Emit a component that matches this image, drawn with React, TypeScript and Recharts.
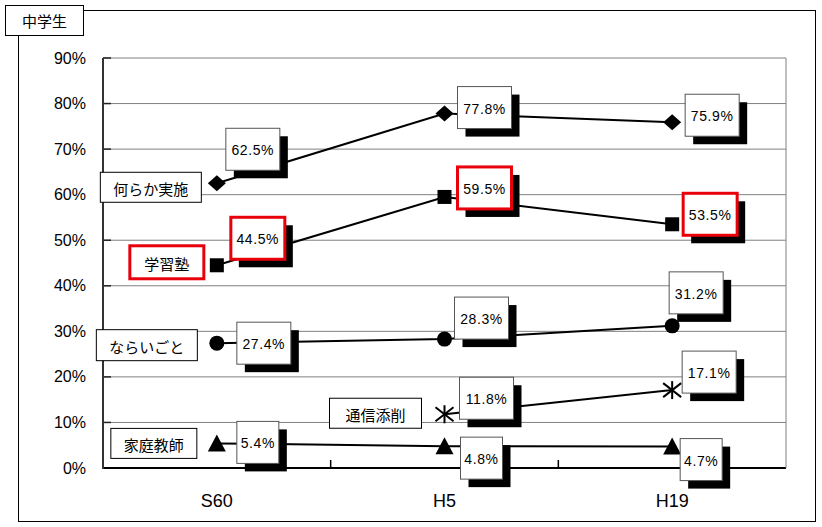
import React from 'react';
import { LineChart, Line, XAxis, YAxis, CartesianGrid } from 'recharts';

// ---- data ----
const categories = ['S60', 'H5', 'H19'];
const seriesNames = ['何らか実施', '学習塾', 'ならいごと', '通信添削', '家庭教師'];
const nanrakaValues = [62.5, 77.8, 75.9];
const jukuValues = [44.5, 59.5, 53.5];
const naraigotoValues = [27.4, 28.3, 31.2];
const tsushinValues: (number | null)[] = [null, 11.8, 17.1];
const kateiValues = [5.4, 4.8, 4.7];
const yTicks = [0, 10, 20, 30, 40, 50, 60, 70, 80, 90];
const chartTitle = '中学生';

const seriesValues = [nanrakaValues, jukuValues, naraigotoValues, tsushinValues, kateiValues];
const seriesKeys = ['s0', 's1', 's2', 's3', 's4'];

const data = categories.map((cat, i) => {
  const row: Record<string, any> = { cat };
  seriesKeys.forEach((k, s) => {
    row[k] = seriesValues[s][i];
  });
  return row;
});

// ---- layout / style ----
const W = 822;
const H = 527;
const MARGIN = { top: 58, right: 36, bottom: 0, left: 0 };
const Y_AXIS_W = 103;
const X_AXIS_H = 59;
const PLOT_W = W - MARGIN.left - MARGIN.right - Y_AXIS_W;
const PLOT_BOTTOM = H - MARGIN.bottom - X_AXIS_H;
const PAD = PLOT_W / 6;
const STEP = PLOT_W / 3;

const NUM_FONT = '"Liberation Sans", Arial, sans-serif';
const JP_FONT = '"Noto Sans CJK JP", "Noto Sans", sans-serif';
const RED = '#e8000b';

type Style = {
  marker: 'diamond' | 'square' | 'circle' | 'asterisk' | 'triangle';
  red: boolean;
  labelOffsets: ([number, number] | null)[];
  name: { dx: number; dy: number; w: number; h: number };
};

const SERIES_STYLE: Style[] = [
  { marker: 'diamond', red: false, labelOffsets: [[36, -34], [40, -6], [40, -7]], name: { dx: -66, dy: 4, w: 101, h: 30 } },
  { marker: 'square', red: true, labelOffsets: [[41, -27], [40, -9], [38, -10]], name: { dx: -50, dy: -3, w: 74, h: 33 } },
  { marker: 'circle', red: false, labelOffsets: [[47, 0], [37, -21], [24, -33]], name: { dx: -70, dy: 2, w: 101, h: 31 } },
  { marker: 'asterisk', red: false, labelOffsets: [null, [42, -16], [37, -18]], name: { dx: -69, dy: -1, w: 92, h: 30 } },
  { marker: 'triangle', red: false, labelOffsets: [[41, -1], [37, 12], [29, 13]], name: { dx: -63, dy: 0, w: 86, h: 30 } },
];

const Marker = ({ type, cx, cy }: { type: Style['marker']; cx: number; cy: number }) => {
  switch (type) {
    case 'diamond':
      return <polygon points={`${cx - 9},${cy} ${cx},${cy - 8} ${cx + 9},${cy} ${cx},${cy + 8}`} fill="#000" />;
    case 'square':
      return <rect x={cx - 7} y={cy - 7} width={14} height={14} fill="#000" />;
    case 'circle':
      return <circle cx={cx} cy={cy} r={7.5} fill="#000" />;
    case 'triangle':
      return <polygon points={`${cx - 9},${cy + 8} ${cx},${cy - 9} ${cx + 9},${cy + 8}`} fill="#000" />;
    case 'asterisk':
      return (
        <g stroke="#000" strokeWidth={2}>
          <line x1={cx} y1={cy - 9} x2={cx} y2={cy + 9} />
          <line x1={cx - 9} y1={cy - 7} x2={cx + 9} y2={cy + 7} />
          <line x1={cx - 9} y1={cy + 7} x2={cx + 9} y2={cy - 7} />
        </g>
      );
  }
  return null;
};

const makeDot = (s: number) => (props: any) => {
  const { cx, cy, index, value } = props;
  const st = SERIES_STYLE[s];
  if (cx == null || cy == null || value == null || (Array.isArray(value) && value[1] == null)) {
    return <g key={`d-${s}-${index}`} />;
  }
  const v = Array.isArray(value) ? value[1] : value;
  const off = st.labelOffsets[index];
  const text = `${Number(v).toFixed(1)}%`;
  const bw = text.length >= 5 ? 54 : 42;
  const bh = 42;
  const vals = seriesValues[s];
  const firstIdx = vals.findIndex((x) => x != null);
  return (
    <g key={`d-${s}-${index}`}>
      <Marker type={st.marker} cx={cx} cy={cy} />
      {off && (
        <g>
          <rect x={cx + off[0] - bw / 2 + 8} y={cy + off[1] - bh / 2 + 8} width={bw} height={bh} fill="#000" />
          <rect
            x={cx + off[0] - bw / 2}
            y={cy + off[1] - bh / 2}
            width={bw}
            height={bh}
            fill="#fff"
            stroke={st.red ? RED : '#555'}
            strokeWidth={st.red ? 3 : 1}
          />
          <text
            x={cx + off[0]}
            y={cy + off[1] + 1}
            textAnchor="middle"
            dominantBaseline="central"
            fontSize={14}
            letterSpacing={0.6}
            fontFamily={NUM_FONT}
            fill="#000"
          >
            {text}
          </text>
        </g>
      )}
      {index === firstIdx && (
        <g>
          <rect
            x={cx + st.name.dx - st.name.w / 2}
            y={cy + st.name.dy - st.name.h / 2}
            width={st.name.w}
            height={st.name.h}
            fill="#fff"
            stroke={st.red ? RED : '#000'}
            strokeWidth={st.red ? 3 : 1}
          />
          <text
            x={cx + st.name.dx}
            y={cy + st.name.dy + 1}
            textAnchor="middle"
            dominantBaseline="central"
            fontSize={15}
            fontFamily={JP_FONT}
            fill="#000"
          >
            {seriesNames[s]}
          </text>
        </g>
      )}
    </g>
  );
};

const XTick = (props: any) => {
  const { x, y, payload, index } = props;
  return (
    <g>
      <text x={x} y={y + 33} textAnchor="middle" dominantBaseline="central" fontSize={18} fontFamily={NUM_FONT} fill="#000">
        {payload.value}
      </text>
      {index < categories.length - 1 && (
        <line x1={x + STEP / 2} x2={x + STEP / 2} y1={y} y2={y - 8} stroke="#000" strokeWidth={1.5} />
      )}
    </g>
  );
};

const YTick = (props: any) => {
  const { x, y, payload } = props;
  return (
    <text x={x - 17} y={y} textAnchor="end" dominantBaseline="central" fontSize={16} fontFamily={NUM_FONT} fill="#000">
      {`${payload.value}%`}
    </text>
  );
};

// grid lines (drawn beneath series, so label boxes cover them)
const renderHLine = (p: any) => {
  const isBottom = Math.abs(p.y1 - PLOT_BOTTOM) < 1;
  return (
    <g key={p.key ?? `h-${p.index}`}>
      <line
        x1={p.x1}
        x2={p.x2}
        y1={p.y1}
        y2={p.y2}
        stroke={isBottom ? '#000' : '#808080'}
        strokeWidth={isBottom ? 2 : 1}
      />
      {!isBottom && <line x1={p.x1} x2={p.x1 + 8} y1={p.y1} y2={p.y2} stroke="#222" strokeWidth={1.5} />}
    </g>
  );
};

const renderVLine = (p: any) => {
  if (p.index !== 0) return <g key={p.key ?? `v-${p.index}`} />;
  const left = p.x ?? p.offset?.left ?? MARGIN.left + Y_AXIS_W;
  const top = p.y ?? p.offset?.top ?? MARGIN.top;
  const width = p.width ?? p.offset?.width ?? PLOT_W;
  const height = p.height ?? p.offset?.height ?? PLOT_BOTTOM - MARGIN.top;
  return (
    <g key={p.key ?? `v-${p.index}`}>
      <line x1={left + width} x2={left + width} y1={top} y2={top + height} stroke="#808080" strokeWidth={1} />
      <line x1={left} x2={left} y1={top} y2={top + height + 1} stroke="#333" strokeWidth={2} />
    </g>
  );
};

export default function App() {
  return (
    <div style={{ position: 'absolute', left: 0, top: 0, width: W, height: H, background: '#fff' }}>
      <div
        style={{
          position: 'absolute',
          left: 18,
          top: 10,
          width: 798,
          height: 512,
          border: '1px solid #000',
          boxSizing: 'border-box',
        }}
      />
      <div style={{ position: 'absolute', left: 0, top: 0 }}>
        <LineChart width={W} height={H} data={data} margin={MARGIN}>
          <CartesianGrid horizontal={renderHLine} vertical={renderVLine} />
          <XAxis
            dataKey="cat"
            height={X_AXIS_H}
            padding={{ left: PAD, right: PAD }}
            interval={0}
            tickSize={0}
            tickMargin={0}
            tickLine={false}
            axisLine={false}
            tick={<XTick />}
          />
          <YAxis
            domain={[0, 90]}
            ticks={yTicks}
            width={Y_AXIS_W}
            interval={0}
            tickSize={0}
            tickMargin={0}
            tickLine={false}
            axisLine={false}
            tick={<YTick />}
          />
          {seriesKeys.map((k, s) => (
            <Line
              key={k}
              dataKey={k}
              stroke="#000"
              strokeWidth={2}
              isAnimationActive={false}
              dot={makeDot(s)}
              activeDot={false}
              connectNulls={false}
            />
          ))}
        </LineChart>
      </div>
      <div
        style={{
          position: 'absolute',
          left: 5,
          top: 5,
          width: 79,
          height: 31,
          border: '1px solid #000',
          boxSizing: 'border-box',
          background: '#fff',
          fontFamily: JP_FONT,
          fontSize: 15,
          display: 'flex',
          alignItems: 'center',
          justifyContent: 'center',
          color: '#000',
        }}
      >
        {chartTitle}
      </div>
    </div>
  );
}
